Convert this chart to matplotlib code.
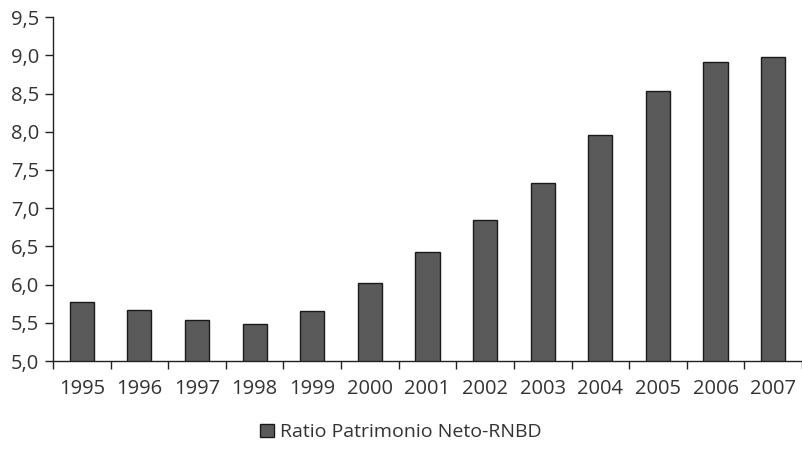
import matplotlib
matplotlib.use("Agg")
import matplotlib.pyplot as plt
from matplotlib.ticker import FuncFormatter, MultipleLocator

# Datos
anios = ['1995', '1996', '1997', '1998', '1999', '2000', '2001',
         '2002', '2003', '2004', '2005', '2006', '2007']
ratio = [5.77, 5.67, 5.53, 5.48, 5.66, 6.02, 6.42,
         6.85, 7.33, 7.96, 8.53, 8.91, 8.98]
etiqueta = 'Ratio Patrimonio Neto-RNBD'

plt.rcParams['font.family'] = ['Open Sans', 'DejaVu Sans']

fig = plt.figure(figsize=(8.02, 4.75), dpi=100)
ax = fig.add_axes([0.066, 0.24, 0.934, 0.724])

x = list(range(len(anios)))
ax.bar(x, ratio, width=0.42, color='#5a5a5a', edgecolor='#1a1a1a',
       linewidth=1.0, label=etiqueta)

ax.set_ylim(5.0, 9.5)
ax.set_xlim(-0.5, len(anios) - 0.5)
ax.yaxis.set_major_locator(MultipleLocator(0.5))
ax.yaxis.set_major_formatter(FuncFormatter(lambda v, p: f'{v:.1f}'.replace('.', ',')))

# ticks del eje x entre categorias
ax.set_xticks([i - 0.5 for i in range(len(anios) + 1)])
ax.set_xticklabels([])
ax.set_xticks(x, minor=True)
ax.set_xticklabels(anios, minor=True)
ax.tick_params(axis='x', which='minor', length=0, pad=13, labelsize=14.5, labelcolor='#333333')
ax.tick_params(axis='x', which='major', length=6, width=1, color='#222222')
ax.tick_params(axis='y', length=6, width=1, pad=4, labelsize=14.5, labelcolor='#333333', color='#222222')

for s in ['top', 'right']:
    ax.spines[s].set_visible(False)
for s in ['left', 'bottom']:
    ax.spines[s].set_color('#222222')
    ax.spines[s].set_linewidth(1)

fig.legend(loc='center', bbox_to_anchor=(0.5, 0.09), frameon=False,
           fontsize=14, handlelength=0.7, handleheight=0.7, handletextpad=0.3,
           labelcolor='#333333')

fig.savefig('out.png', dpi=100)
